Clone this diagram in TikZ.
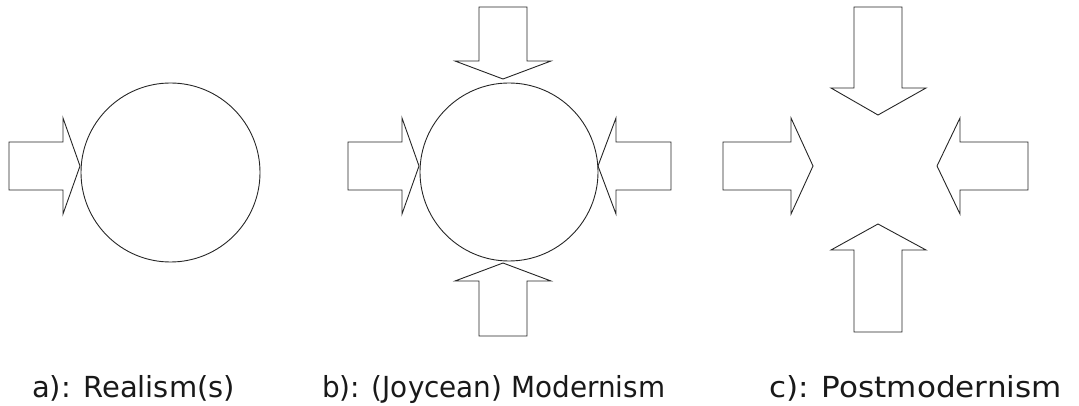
\documentclass[tikz,border=0pt]{standalone}
\usepackage{fontspec}
\usepackage{graphicx}
\setmainfont{DejaVu Sans}
\begin{document}
\begin{tikzpicture}[x=1pt,y=-1pt,
  shape line/.style={draw=black!85,line width=0.9pt,line join=miter},
  caption/.style={anchor=base west,inner sep=0pt,font=\fontsize{29}{33}\selectfont,text=black!90}]
\useasboundingbox (0,0) rectangle (1079,406);
% a) Realism(s)
\draw[shape line] (170.5,172.5) circle[radius=89.5];
\draw[shape line] (9,142) -- (63,142) -- (63,118) -- (80,166) -- (63,214) -- (63,190) -- (9,190) -- cycle;
% b) Modernism
\draw[shape line] (509,172) circle[radius=89];
\draw[shape line] (348,142) -- (402,142) -- (402,118) -- (419,166) -- (402,214) -- (402,190) -- (348,190) -- cycle;
\draw[shape line] (671,142) -- (616,142) -- (616,118) -- (598,166) -- (616,214) -- (616,190) -- (671,190) -- cycle;
\draw[shape line] (479,7) -- (527,7) -- (527,61) -- (551,61) -- (503,79) -- (455,61) -- (479,61) -- cycle;
\draw[shape line] (479,336) -- (527,336) -- (527,281) -- (551,281) -- (503,263) -- (455,281) -- (479,281) -- cycle;
% c) Postmodernism
\draw[shape line] (854,7) -- (902,7) -- (902,88) -- (926,88) -- (878,115) -- (831,88) -- (854,88) -- cycle;
\draw[shape line] (854,332) -- (902,332) -- (902,250) -- (926,250) -- (878,224) -- (831,250) -- (854,250) -- cycle;
\draw[shape line] (723,142) -- (791,142) -- (791,118) -- (813,166) -- (791,214) -- (791,190) -- (723,190) -- cycle;
\draw[shape line] (1028,142) -- (960,142) -- (960,118) -- (937,166) -- (960,214) -- (960,190) -- (1028,190) -- cycle;
% captions
\node[caption] (ca) at (32,397) {a): Realism(s)};
\node[caption] (cb) at (322,397) {\scalebox{0.96}[1]{b): (Joycean) Modernism}};
\node[caption] (cc) at (769,397) {\scalebox{1.07}[1]{c): Postmodernism}};
\end{tikzpicture}
\end{document}
